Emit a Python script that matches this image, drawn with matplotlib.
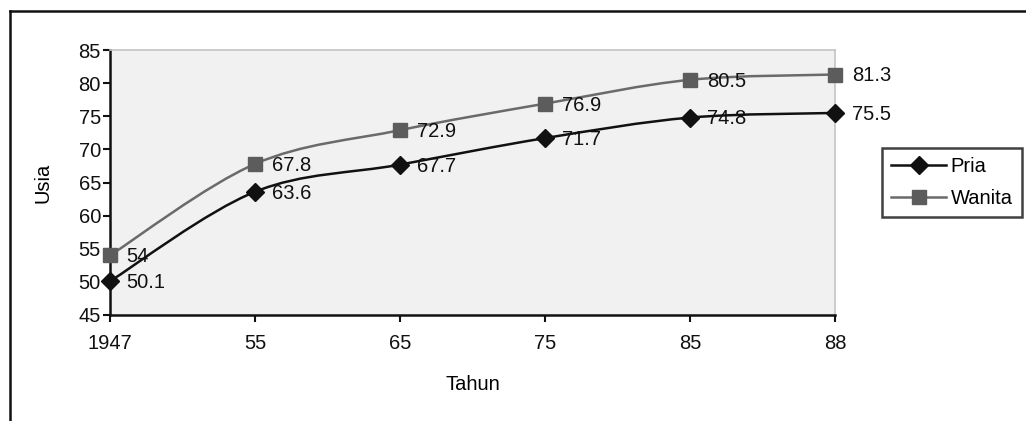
import numpy as np
import matplotlib.pyplot as plt
from matplotlib.path import Path
from matplotlib.patches import PathPatch
from matplotlib.lines import Line2D

plt.rcParams['font.family'] = ['Liberation Sans', 'DejaVu Sans']

tahun = ['1947', '55', '65', '75', '85', '88']
pria = [50.1, 63.6, 67.7, 71.7, 74.8, 75.5]
wanita = [54, 67.8, 72.9, 76.9, 80.5, 81.3]
label_pria = ['50.1', '63.6', '67.7', '71.7', '74.8', '75.5']
label_wanita = ['54', '67.8', '72.9', '76.9', '80.5', '81.3']

FS = 14.5


def kurva_halus(x, y):
    # kurva bezier ala Excel (smoothed line), lewat semua titik data
    x = np.asarray(x, float)
    y = np.asarray(y, float)
    verts = [(x[0], y[0])]
    codes = [Path.MOVETO]
    n = len(x)
    for i in range(n - 1):
        i0 = max(i - 1, 0)
        i3 = min(i + 2, n - 1)
        c1 = (x[i] + (x[i + 1] - x[i0]) / 6, y[i] + (y[i + 1] - y[i0]) / 6)
        c2 = (x[i + 1] - (x[i3] - x[i]) / 6, y[i + 1] - (y[i3] - y[i]) / 6)
        verts += [c1, c2, (x[i + 1], y[i + 1])]
        codes += [Path.CURVE4] * 3
    return Path(verts, codes)


fig = plt.figure(figsize=(10.26, 4.21), dpi=100)
ax = fig.add_axes([110/1026, 1 - 315/421, 725/1026, 265/421])
ax.set_facecolor('#f1f1f1')

xs = np.arange(len(tahun))
seri = [
    (wanita, label_wanita, '#6a6a6a', '#5c5c5c', 's', 10.5, 'Wanita'),
    (pria, label_pria, '#111111', '#111111', 'D', 9.5, 'Pria'),
]
for vals, labs, lc, mc, mk, ms, nama in seri:
    ax.add_patch(PathPatch(kurva_halus(xs, vals), fill=False, edgecolor=lc,
                           lw=1.8, zorder=3, clip_on=False))
    ax.plot(xs, vals, ls='none', marker=mk, ms=ms, color=mc, zorder=4,
            clip_on=False)
    for xi, v, t in zip(xs, vals, labs):
        ax.annotate(t, (xi, v), xytext=(12, -1), textcoords='offset points',
                    fontsize=FS, va='center', ha='left', color='#111111',
                    zorder=5)

ax.set_xlim(0, len(tahun) - 1)
ax.set_ylim(45, 85)
ax.set_yticks(np.arange(45, 86, 5))
ax.set_xticks(xs)
ax.set_xticklabels(tahun)
ax.tick_params(labelsize=FS, length=5, width=1.5, color='#111111',
               labelcolor='#111111')
ax.tick_params(axis='x', pad=9)
ax.tick_params(axis='y', pad=1.5)

for s in ['left', 'bottom']:
    ax.spines[s].set_linewidth(1.8)
    ax.spines[s].set_color('#111111')
for s in ['top', 'right']:
    ax.spines[s].set_linewidth(1.2)
    ax.spines[s].set_color('#c4c4c4')

ax.set_ylabel('Usia', fontsize=FS)
ax.yaxis.set_label_coords(-58/725, 0.5)
ax.set_xlabel('Tahun', fontsize=FS)
ax.xaxis.set_label_coords(363/725, -60/265)

handles = [
    Line2D([], [], color='#111111', marker='D', ms=9.5, lw=1.8, label='Pria'),
    Line2D([], [], color='#6a6a6a', marker='s', ms=10.5, mfc='#5c5c5c',
           mec='#5c5c5c', lw=1.8, label='Wanita'),
]
leg = fig.legend(handles=handles, loc='upper left',
                 bbox_to_anchor=(882/1026, 1 - 148/421), fontsize=FS,
                 frameon=True, fancybox=False, handlelength=2.75,
                 handletextpad=0.2, borderpad=0.45, labelspacing=0.65,
                 borderaxespad=0)
leg.get_frame().set_edgecolor('#111111')
leg.get_frame().set_linewidth(1.8)

# bingkai luar grafik
fig.add_artist(Line2D([10/1026, 10/1026], [0, 1 - 11/421], color='#111111',
                      lw=1.8, transform=fig.transFigure))
fig.add_artist(Line2D([10/1026, 1], [1 - 11/421, 1 - 11/421], color='#111111',
                      lw=1.8, transform=fig.transFigure))

fig.savefig('out.png', dpi=100)
